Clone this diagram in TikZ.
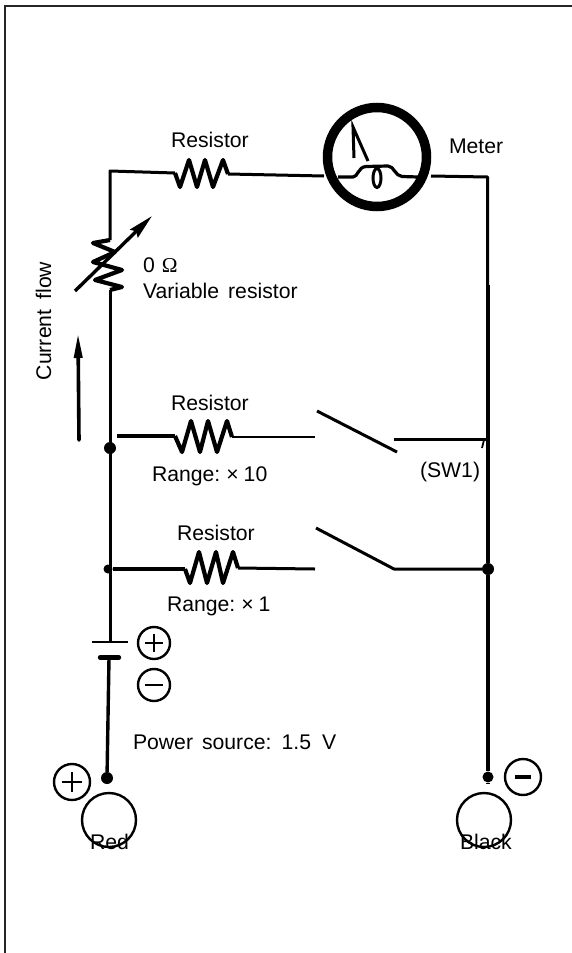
\documentclass[tikz,border=0pt]{standalone}
\usepackage{fontspec}
\setmainfont{Liberation Sans}
\newfontfamily\omegafont{Liberation Serif}
\usetikzlibrary{arrows.meta}
\newcommand{\gapw}[1]{\hspace*{#1pt}}
\tikzset{
  lbl/.style={anchor=base west,inner sep=0pt,outer sep=0pt,font=\fontsize{21.2}{24}\selectfont,text=black},
  wire/.style={line width=3pt,line join=round,black},
  thinwire/.style={line width=2.4pt,line join=round,black},
  heavy/.style={line width=4.8pt,black},
  zig/.style={line width=4.2pt,line join=round,black},
  junction/.style={circle,fill=black,inner sep=0pt,minimum size=#1},
  ring/.style={circle,draw=black,line width=2.4pt,inner sep=0pt,minimum size=#1},
  signbar/.style={line width=2.2pt,black},
}
\begin{document}
\begin{tikzpicture}[x=1pt,y=-1pt]
\useasboundingbox (0,0) rectangle (572,953);
% frame
\draw[black!85,line width=1.6pt] (572,5.7) -- (5,5.7) -- (5,953);
% named points
\coordinate (tl) at (110,171);
\coordinate (r1a) at (175,173);
\coordinate (r1b) at (228,174);
\coordinate (ml) at (324,176);
\coordinate (mr) at (431,176);
\coordinate (tr) at (487.5,177);
\coordinate (vt) at (110,240);
\coordinate (vb) at (110,290);
\node[junction=12pt] (j1) at (110,448) {};
\node[junction=9pt] (j2) at (108,569) {};
\node[junction=12pt] (j3) at (488,569) {};
\node[junction=12pt] (tp) at (107,778) {};
\node[junction=11pt] (tn) at (488,777) {};
\coordinate (s1a) at (117,436);
\coordinate (r2a) at (175,436);
\coordinate (r2b) at (232,437);
\coordinate (s1b) at (315,437);
\coordinate (sw1a) at (317,411);
\coordinate (sw1b) at (397,452);
\coordinate (c1a) at (394,439);
\coordinate (c1b) at (487,439);
\coordinate (r3a) at (185,569);
\coordinate (r3b) at (238,568);
\coordinate (s2b) at (315,569);
\coordinate (sw2a) at (316,528);
\coordinate (sw2b) at (394,569);
\coordinate (bt) at (110,642);
\coordinate (bb) at (109,658);
% meter
\node[circle,draw=black,line width=9.5pt,minimum size=99pt,inner sep=0pt] (meter) at (377,157) {};
\draw[line width=3.2pt,line join=round] (338,177) -- (353,177) .. controls (358,177) and (358,167) .. (366,166.5) -- (388,166) .. controls (394,166) and (395,176) .. (402,176.5) -- (418,177);
\draw[line width=3pt] (377,178) ellipse [x radius=4,y radius=9.5];
\draw[line width=3pt,line join=miter] (354,158) -- (353,127) -- (368,161);
% top wires
\draw[wire] (vt) -- (tl) -- (r1a);
\draw[zig] (r1a) -- (180,187) -- (189,160) -- (197,187) -- (205,160) -- (213,187) -- (223,160) -- (r1b);
\draw[wire] (r1b) -- (ml);
\draw[wire] (mr) -- (tr) -- (487.5,290);
% variable resistor
\draw[zig] (vt) -- (93,243) -- (115,252) -- (93,262) -- (122,270) -- (95,280) -- (122,287) -- (vb);
\coordinate (aa) at (75,291);
\coordinate (ab) at (152,216);
\draw[line width=3.4pt,-{Stealth[length=25pt,width=11pt,inset=3pt]}] (aa) -- (ab);
% left rail
\draw[wire] (vb) -- (110,569);
\draw[wire] (110,569) -- (bt);
% right rail
\draw[heavy] (488,285) -- (j3);
\draw[heavy] (j3) -- (tn) -- (488,784);
% upper range branch
\draw[wire,line width=3.6pt] (s1a) -- (r2a);
\draw[zig] (r2a) -- (182,452) -- (191,421) -- (200,452) -- (208,421) -- (217,452) -- (227,421) -- (r2b);
\draw[thinwire] (r2b) -- (s1b);
\draw[wire] (sw1a) -- (sw1b);
\draw[wire] (c1a) -- (c1b);
\draw[line width=1.8pt] (484,440) -- (482,448);
% lower range branch
\draw[wire,line width=3.4pt] (j2) -- (r3a);
\draw[zig] (r3a) -- (190,583) -- (199,552) -- (207,583) -- (216,552) -- (223,583) -- (233,552) -- (r3b);
\draw[wire] (r3b) -- (s2b);
\draw[wire] (sw2a) -- (sw2b) -- (j3);
% battery
\coordinate (p1) at (92,642);
\coordinate (p2) at (128,642);
\coordinate (n1) at (100,657.5);
\coordinate (n2) at (119,657.5);
\draw[line width=2.2pt] (p1) -- (p2);
\draw[line width=4.4pt,line cap=round] (n1) -- (n2);
\draw[wire,line width=3.4pt] (bb) -- (tp);
% current arrow
\coordinate (ca) at (79,440);
\coordinate (cb) at (78,333);
\draw[line width=3.6pt,line cap=round,-{Stealth[length=25pt,width=8pt,inset=0pt]}] (ca) -- (cb);
% polarity signs
\node[ring=32pt] (bplus) at (154,643) {};
\draw[signbar] (145,643) -- (163,643) (154,634) -- (154,652);
\node[ring=32pt] (bminus) at (154,685) {};
\draw[signbar] (145,685) -- (163,685);
\node[ring=36pt] (tplus) at (72,782) {};
\draw[signbar] (62,782) -- (82,782) (72,772) -- (72,792);
\node[ring=36pt] (tminus) at (523,777) {};
\draw[line width=3.2pt] (515,777) -- (531,777);
% probes
\node[ring=54pt] (pred) at (109,820) {};
\node[ring=54pt] (pblack) at (484,820) {};
% labels
\node[lbl] (l1) at (171,147) {Resistor};
\node[lbl] (l2) at (449,153) {Meter};
\node[lbl] (l3) at (143,272) {0\gapw{7}{\omegafont Ω}};
\node[lbl] (l4) at (143,298) {Variable\gapw{9}resistor};
\node[lbl,anchor=base,rotate=90] (l5) at (51,321) {Current\gapw{10}flow};
\node[lbl] (l6) at (171,410) {Resistor};
\node[lbl] (l7) at (152,481) {Range:\gapw{6}×\gapw{5}10};
\node[lbl] (l8) at (420,477) {(SW1)};
\node[lbl] (l9) at (177,540) {Resistor};
\node[lbl] (l10) at (167,611) {Range:\gapw{6}×\gapw{5}1};
\node[lbl] (l11) at (133,749) {Power\gapw{9}source:\gapw{10}1.5\gapw{11}V};
\node[lbl] (l12) at (90,849) {Red};
\node[lbl] (l13) at (460,849) {Black};
\end{tikzpicture}
\end{document}
